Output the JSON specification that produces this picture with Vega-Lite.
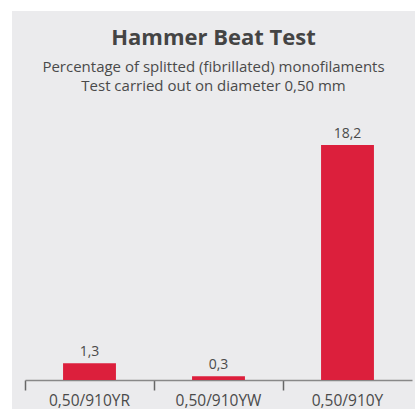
{
  "$schema": "https://vega.github.io/schema/vega-lite/v6.json",
  "width": 403,
  "height": 398,
  "autosize": {"type": "none"},
  "padding": {"left": 12, "top": 11, "right": 2, "bottom": 0},
  "background": "#ffffff",
  "title": {
    "text": "Hammer Beat Test",
    "subtitle": ["Percentage of splitted (fibrillated) monofilaments", "Test carried out on diameter 0,50 mm"],
    "anchor": "middle",
    "offset": -84,
    "font": "Open Sans",
    "fontSize": 22,
    "fontWeight": "bold",
    "color": "#444444",
    "subtitleFont": "Open Sans",
    "subtitleFontSize": 15,
    "subtitleColor": "#4a4a4a",
    "subtitleLineHeight": 19,
    "subtitlePadding": 10
  },
  "data": {
    "values": [
      {"product": "0,50/910YR", "value": 1.3, "label": "1,3"},
      {"product": "0,50/910YW", "value": 0.3, "label": "0,3"},
      {"product": "0,50/910Y", "value": 18.2, "label": "18,2"}
    ]
  },
  "encoding": {
    "x": {
      "field": "product",
      "type": "nominal",
      "sort": null,
      "scale": {"range": [13, 400], "paddingInner": 0, "paddingOuter": 0},
      "axis": {
        "title": null,
        "offset": -29,
        "labelAngle": 0,
        "labelFont": "Open Sans",
        "labelFontSize": 15.5,
        "labelColor": "#4a4a4a",
        "labelPadding": 3,
        "bandPosition": 0,
        "tickExtra": false,
        "tickSize": 10,
        "tickColor": "#666666",
        "tickWidth": 1.5,
        "domainColor": "#888888",
        "domainWidth": 1.5
      }
    },
    "y": {
      "field": "value",
      "type": "quantitative",
      "scale": {"domain": [-2.246, 28.58], "nice": false, "zero": false},
      "axis": null
    }
  },
  "layer": [
    {
      "mark": {"type": "bar", "color": "#dc1f3c", "width": {"band": 0.41}},
      "encoding": {"y2": {"datum": 0}}
    },
    {
      "mark": {"type": "text", "font": "Open Sans", "fontSize": 14, "color": "#4a4a4a", "baseline": "alphabetic", "dy": -7},
      "encoding": {"text": {"field": "label"}}
    }
  ],
  "config": {
    "view": {"fill": "#ebebed", "stroke": null}
  }
}
